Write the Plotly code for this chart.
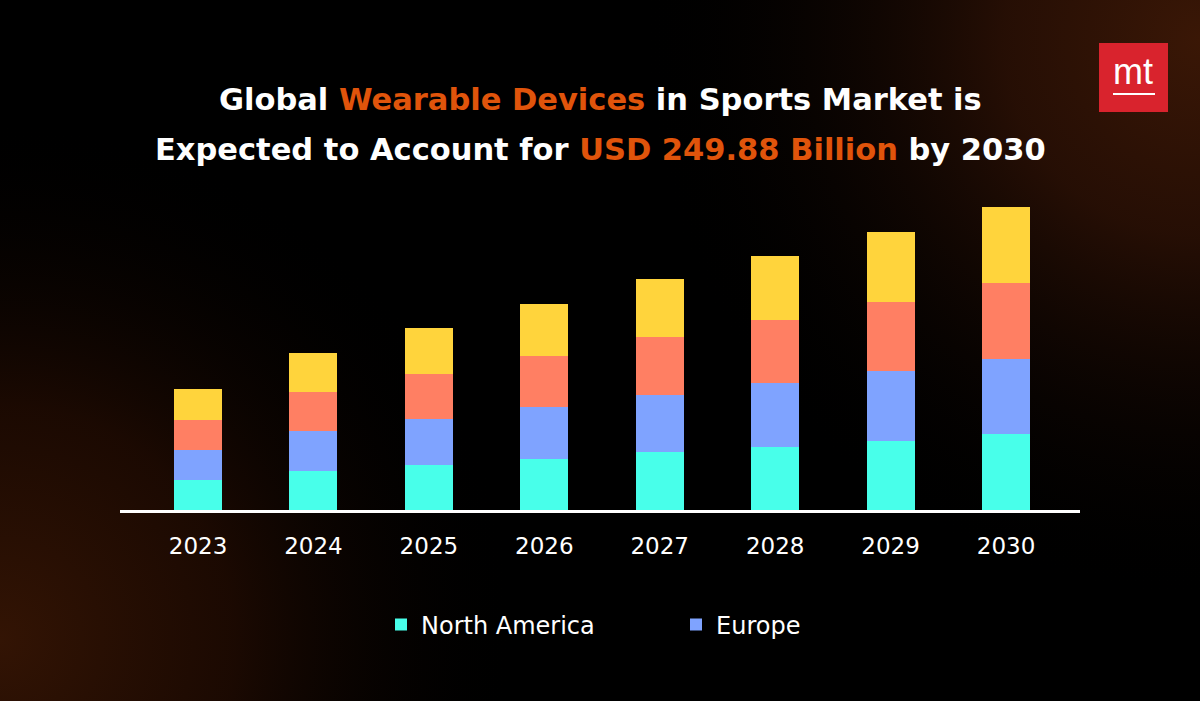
import base64
import plotly.graph_objects as go

years = ["2023", "2024", "2025", "2026", "2027", "2028", "2029", "2030"]
north_america = [24.9, 32.4, 37.5, 42.5, 47.6, 52.4, 57.3, 62.5]
europe = [24.9, 32.4, 37.5, 42.5, 47.6, 52.4, 57.3, 62.5]
asia_pacific = [24.9, 32.4, 37.5, 42.5, 47.6, 52.4, 57.3, 62.5]
rest_of_world = [24.9, 32.4, 37.5, 42.5, 47.6, 52.4, 57.3, 62.4]

series = [
    ("North America", north_america, "#48FFEA", True),
    ("Europe", europe, "#7FA3FF", True),
    ("Asia Pacific", asia_pacific, "#FF7F63", False),
    ("Rest of the World", rest_of_world, "#FFD43C", False),
]

W, H = 1200, 701
L, R, T, B = 120, 120, 195, 191
PW, PH = W - L - R, H - T - B

svg = f'''<svg xmlns="http://www.w3.org/2000/svg" width="{W}" height="{H}" viewBox="0 0 {W} {H}">
<defs>
<radialGradient id="g1" cx="0" cy="640" r="520" gradientUnits="userSpaceOnUse">
<stop offset="0" stop-color="#331404" stop-opacity="1"/>
<stop offset="0.45" stop-color="#200b02" stop-opacity="0.85"/>
<stop offset="1" stop-color="#000000" stop-opacity="0"/>
</radialGradient>
<radialGradient id="g2" cx="1200" cy="40" r="560" gradientUnits="userSpaceOnUse">
<stop offset="0" stop-color="#3a1706" stop-opacity="1"/>
<stop offset="0.35" stop-color="#2a1005" stop-opacity="0.9"/>
<stop offset="1" stop-color="#000000" stop-opacity="0"/>
</radialGradient>
</defs>
<rect width="{W}" height="{H}" fill="#000000"/>
<rect width="{W}" height="{H}" fill="url(#g1)"/>
<rect width="{W}" height="{H}" fill="url(#g2)"/>
</svg>'''
bg_uri = "data:image/svg+xml;base64," + base64.b64encode(svg.encode()).decode()


def px_x(x):
    return (x - L) / PW


def px_y(y):
    return (H - B - y) / PH


fig = go.Figure()
for name, vals, color, show in series:
    fig.add_trace(go.Bar(
        x=years, y=vals, name=name, marker=dict(color=color, line=dict(width=0)),
        showlegend=show,
    ))

orange = "#E0540B"
title1 = f'Global <span style="color:{orange}">Wearable Devices</span> in Sports Market is'
title2 = f'Expected to Account for <span style="color:{orange}">USD 249.88 Billion</span> by 2030'
title_font = dict(family="DejaVu Sans", size=30.5, color="#FFFFFF", weight="bold")

fig.update_layout(
    width=W, height=H,
    margin=dict(l=L, r=R, t=T, b=B),
    paper_bgcolor="#000000",
    plot_bgcolor="rgba(0,0,0,0)",
    barmode="stack",
    bargap=0.584,
    images=[dict(source=bg_uri, xref="paper", yref="paper", x=px_x(0), y=px_y(0),
                 sizex=W / PW, sizey=H / PH, sizing="stretch", layer="below",
                 xanchor="left", yanchor="top")],
    xaxis=dict(
        range=[-0.676, 7.641], showgrid=False, zeroline=False,
        showline=True, linecolor="#FFFFFF", linewidth=3,
        tickfont=dict(family="DejaVu Sans", size=23, color="#FFFFFF"),
        ticks="", ticklabelstandoff=13,
    ),
    yaxis=dict(range=[0, 260], visible=False, showgrid=False, zeroline=False),
    legend=dict(
        orientation="h", x=px_x(381), xanchor="left", y=px_y(625), yanchor="middle",
        font=dict(family="DejaVu Sans", size=24, color="#FFFFFF"),
        entrywidth=250, entrywidthmode="pixels", traceorder="normal",
        bgcolor="rgba(0,0,0,0)",
    ),
    annotations=[
        dict(text=title1, x=0.5, y=px_y(100), xref="paper", yref="paper",
             xanchor="center", yanchor="middle", showarrow=False, font=title_font),
        dict(text=title2, x=0.5, y=px_y(149), xref="paper", yref="paper",
             xanchor="center", yanchor="middle", showarrow=False, font=title_font),
        dict(text="mt", x=px_x(1133), y=px_y(71), xref="paper", yref="paper",
             xanchor="center", yanchor="middle", showarrow=False,
             font=dict(family="Liberation Sans", size=36, color="#FFFFFF")),
    ],
    shapes=[
        dict(type="rect", xref="paper", yref="paper", x0=px_x(1099), x1=px_x(1168),
             y0=px_y(112), y1=px_y(43), fillcolor="#D9232D", line=dict(width=0), layer="above"),
        dict(type="line", xref="paper", yref="paper", x0=px_x(1113), x1=px_x(1155),
             y0=px_y(94), y1=px_y(94), line=dict(color="#FFFFFF", width=2)),
    ],
)

fig.write_html("out.html", config={"displayModeBar": False},
               post_script="document.body.style.margin='0';document.body.style.background='#000';")
